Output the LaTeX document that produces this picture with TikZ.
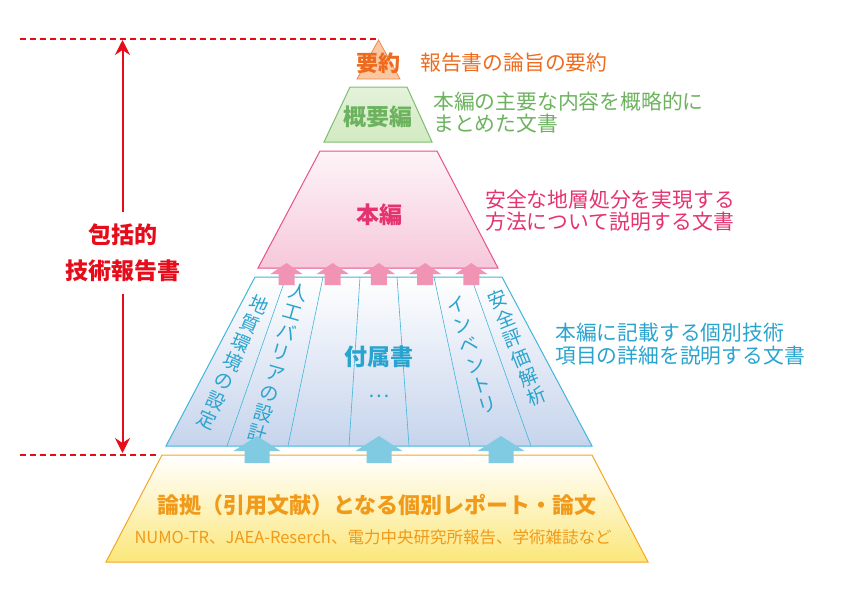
\documentclass[tikz,border=0pt]{standalone}
\usepackage{fontspec}
\setmainfont{Noto Sans CJK JP}
\usetikzlibrary{arrows.meta,calc}
\definecolor{cred}{HTML}{E60C1A}
\definecolor{corange}{HTML}{EE6B1E}
\definecolor{corfill}{HTML}{F9C7A2}
\definecolor{cgreen}{HTML}{6DB35F}
\definecolor{cgrfill}{HTML}{D2EAC2}
\definecolor{cgrline}{HTML}{7DBE6E}
\definecolor{cpink}{HTML}{E5336F}
\definecolor{cpkline}{HTML}{E8508A}
\definecolor{cpkfill}{HTML}{F6C8DA}
\definecolor{cpkarrow}{HTML}{F193B3}
\definecolor{cblue}{HTML}{2AA4CE}
\definecolor{cblline}{HTML}{43B5DA}
\definecolor{cblfill}{HTML}{C6D4EC}
\definecolor{cblarrow}{HTML}{80CAE2}
\definecolor{cyel}{HTML}{F19A1A}
\definecolor{cyelline}{HTML}{F5A623}
\definecolor{cyelfill}{HTML}{FBE77A}
\newcommand\myuparrow[7]{%
  \fill[#1] (#2,#3) -- (#2+#6,#4) -- (#2+#7,#4) -- (#2+#7,#5) -- (#2-#7,#5) -- (#2-#7,#4) -- (#2-#6,#4) -- cycle;}
\begin{document}
\begin{tikzpicture}[x=1pt,y=-1pt,
  title/.style={font=\fontsize{23}{25}\selectfont\bfseries, inner sep=0pt},
  desc/.style={font=\fontsize{20.8}{22.5}\selectfont, anchor=west, align=left, inner sep=0pt},
  vtext/.style={font=\fontsize{19}{21}\selectfont, align=center, inner sep=0pt, text=cblue},
  redash/.style={draw=cred, line width=1.3pt, dash pattern=on 6pt off 4pt},
  stripline/.style={draw=cblline, line width=0.6pt}]
\useasboundingbox (0,0) rectangle (842,595);

% bottom block
\draw[cyelline, line width=1pt, top color=white, bottom color=cyelfill]
  (162,455) coordinate (Y0) -- (592,455) coordinate (Y1) -- (648,562) -- (106,562) -- cycle;
\node[title, text=cyel, font=\fontsize{22}{24}\selectfont\bfseries] (ytitle) at (377,505) {論拠（引用文献）となる個別レポート・論文};
\node[inner sep=0pt, text=cyel, font=\fontsize{16.5}{18}\selectfont] (ysub) at (373,537) {NUMO-TR、JAEA-Reserch、電力中央研究所報告、学術雑誌など};

% appendix block
\draw[cblline, line width=1pt, top color=white, bottom color=cblfill]
  (255,277) coordinate (T0) -- (502,277) coordinate (T7) -- (592,446) coordinate (B7) -- (166,446) coordinate (B0) -- cycle;
\foreach \t/\b [count=\i] in {286/227, 323/288, 360/349, 397/409, 434/470, 471/531}{
  \coordinate (T\i) at (\t,277);
  \coordinate (B\i) at (\b,446);
  \draw[stripline] (T\i) -- (B\i);
}
\node[title, text=cblue] (fuzoku) at (379,357) {付属書};
\node[inner sep=0pt, text=cblue, font=\fontsize{20}{22}\selectfont] (dots) at (379,396) {…};
\node[vtext, rotate=-24] (s1) at (233,362) {地\\質\\環\\境\\の\\設\\定};
\node[vtext, rotate=-16] (s2) at (278,363) {人\\工\\バ\\リ\\ア\\の\\設\\計};
\node[vtext, rotate=17] (s6) at (472,355) {イ\\ン\\ベ\\ン\\ト\\リ};
\node[vtext, rotate=22] (s7) at (517,348) {安\\全\\評\\価\\解\\析};

% main block
\draw[cpkline, line width=1pt, top color=cpkfill!20, bottom color=cpkfill]
  (320,151) -- (437,151) -- (498,268) -- (258,268) -- cycle;
\node[title, text=cpink] (honpen) at (379,215) {本編};

% summary block
\draw[cgrline, line width=1pt, top color=cgrfill!60, bottom color=cgrfill]
  (350,87) -- (407,87) -- (432,142) -- (324,142) -- cycle;
\node[title, text=cgreen] (gaiyou) at (378,117) {概要編};

% abstract triangle
\draw[corange!80, line width=0.8pt, fill=corfill]
  (378.5,40) coordinate (apex) -- (400,79) -- (357,79) -- cycle;
\node[title, text=corange, font=\fontsize{22}{24}\selectfont\bfseries] (youyaku) at (378,63) {要約};

% arrows
\foreach \x in {286.5,332.7,378.9,425.1,471.3}{\myuparrow{cpkarrow}{\x}{263}{274}{285}{16}{8}}
\foreach \x in {257,379,501}{\myuparrow{cblarrow}{\x}{436}{451}{463}{23.5}{12.5}}

% descriptions
\node[desc, text=corange] (d1) at (420,63) {報告書の論旨の要約};
\node[desc, text=cgreen] (d2) at (433,112.5) {本編の主要な内容を概略的に\\まとめた文書};
\node[desc, text=cpink] (d3) at (485,210.5) {安全な地層処分を実現する\\方法について説明する文書};
\node[desc, text=cblue] (d4) at (555,344) {本編に記載する個別技術\\項目の詳細を説明する文書};

% left scale
\coordinate (dl1) at (20,39);
\coordinate (dl2) at (20,455);
\coordinate (dl2e) at (157,455);
\draw[redash] (dl1) -- (apex |- dl1);
\draw[redash] (dl2) -- (dl2e);
\coordinate (rtop) at (122.5,40);
\coordinate (rbot) at (122.5,453);
\draw[cred, line width=2pt, {Stealth[length=15pt,width=15pt,inset=5pt]}-{Stealth[length=15pt,width=15pt,inset=5pt]}] (rtop) -- (rbot);
\node[fill=white, text=cred, font=\fontsize{23}{36}\selectfont\bfseries, align=center, inner xsep=2pt, inner ysep=12pt] (scope) at (122.5,253) {包括的\\技術報告書};
\end{tikzpicture}
\end{document}
